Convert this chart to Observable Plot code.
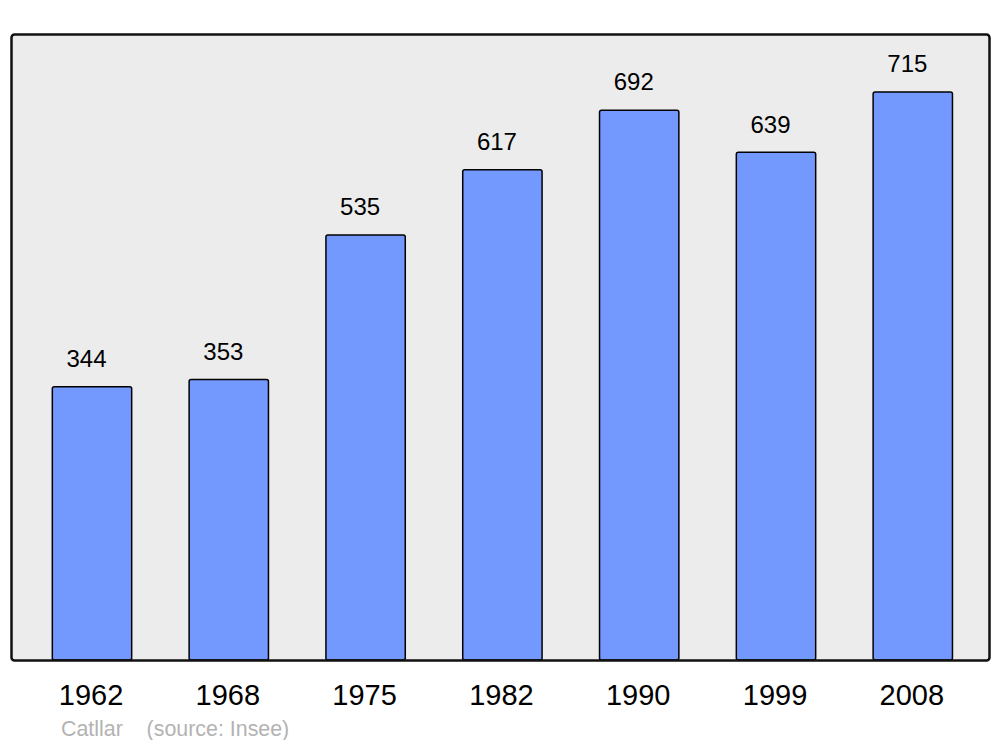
<!DOCTYPE html>
<html>
<head>
<meta charset="utf-8">
<script src="https://cdn.jsdelivr.net/npm/d3@7"></script>
<script src="https://cdn.jsdelivr.net/npm/@observablehq/plot@0.6"></script>
<style>
  body { margin: 0; background: #ffffff; font-family: "Liberation Sans", Arial, sans-serif; }
  #chart svg { display: block; }
  #caption { margin-top: 7px; margin-left: 61px; font-size: 21.4px; line-height: 21px; color: #b3b3b3; white-space: pre; }
</style>
</head>
<body>
<div id="chart"></div>
<div id="caption">Catllar    (source: Insee)</div>
<script>
const years = ["1962", "1968", "1975", "1982", "1990", "1999", "2008"];
const population = [344, 353, 535, 617, 692, 639, 715];

const data = years.map((year, i) => ({year, value: population[i]}));

const chart = Plot.plot({
  width: 1000,
  height: 712,
  marginTop: 34,
  marginBottom: 52,
  marginLeft: 11,
  marginRight: 11,
  style: {fontFamily: "'Liberation Sans', Arial, sans-serif", background: "transparent"},
  x: {type: "band", domain: years, range: [23.6, 981.2], paddingInner: 0.42, paddingOuter: 0.21, round: false, label: null},
  y: {domain: [0, 788], axis: null},
  marks: [
    Plot.frame({fill: "#ececec", stroke: "none", rx: 3}),
    Plot.barY(data, {x: "year", y: "value", fill: "#7399ff", stroke: "#000", strokeWidth: 1.5, rx: 2}),
    Plot.text(data, {x: "year", y: "value", text: d => String(d.value), dy: -28, dx: -6, fontSize: 24, fill: "#000"}),
    Plot.frame({fill: "none", stroke: "#111", strokeWidth: 2.5, rx: 3}),
    Plot.axisX({tickSize: 0, tickPadding: 24, fontSize: 29, dx: -1.5, label: null, fill: "#000"})
  ]
});
document.getElementById("chart").appendChild(chart);
</script>
</body>
</html>
